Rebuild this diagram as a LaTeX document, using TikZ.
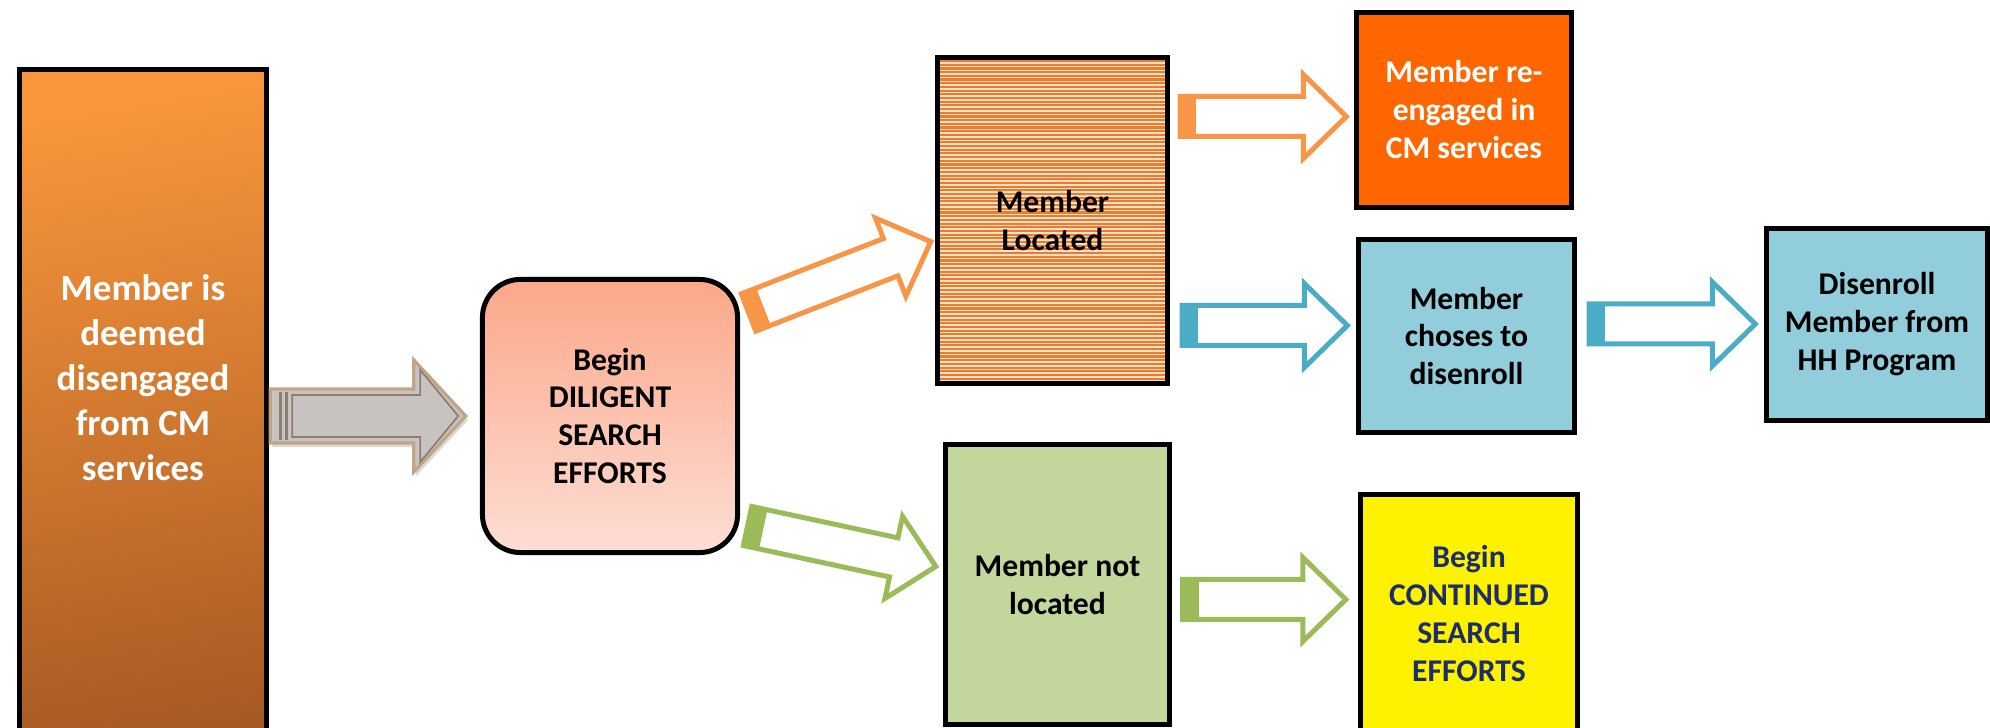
\documentclass[tikz,border=0pt]{standalone}
\usepackage{fontspec}
\setmainfont{Carlito}
\usetikzlibrary{calc,shadows}
\definecolor{leftTop}{HTML}{F9963B}
\definecolor{leftBottom}{HTML}{A35722}
\definecolor{searchTop}{HTML}{FCA78A}
\definecolor{searchBottom}{HTML}{FDDED4}
\definecolor{stripeLight}{HTML}{FCE2CF}
\definecolor{stripeOrange}{HTML}{F07A25}
\definecolor{reFill}{HTML}{FF6600}
\definecolor{blueFill}{HTML}{92CDDC}
\definecolor{greenFill}{HTML}{C3D69B}
\definecolor{navyText}{HTML}{1C2D6B}
\definecolor{arrOrange}{HTML}{F79646}
\definecolor{arrBlue}{HTML}{4BACC6}
\definecolor{arrGreen}{HTML}{9BBB59}
\definecolor{arrGrey}{HTML}{C7C3C0}
\definecolor{arrTan}{HTML}{C4A486}
\definecolor{arrDark}{HTML}{8E7D70}
\newcommand{\shaftw}{20}
\newcommand{\headw}{42}
\newcommand{\headl}{43}
\newcommand{\barlen}{16}
\newcommand{\blockarrow}[4][]{%
  \path let \p1=($(#4)-(#3)$) in
    \pgfextra{\pgfmathsetmacro\arrang{atan2(\y1,\x1)}%
      \pgfmathsetmacro\arrlen{veclen(\x1,\y1)/0.284528}%
      \global\let\arrang\arrang\global\let\arrlen\arrlen};
  \begin{scope}[shift={(#3)},rotate=\arrang]
    \draw[line width=1.42pt,line join=miter,draw=#2,fill=white,#1]
      (0,-\shaftw) -- ({\arrlen-\headl},-\shaftw) -- ({\arrlen-\headl},-\headw)
      -- (\arrlen,0) -- ({\arrlen-\headl},\headw) -- ({\arrlen-\headl},\shaftw)
      -- (0,\shaftw) -- cycle;
    \fill[#2] (0,-\shaftw) rectangle (\barlen,\shaftw);
  \end{scope}}

\begin{document}
\begin{tikzpicture}[x=0.01cm,y=-0.01cm,
    box/.style={draw=black,line width=1.42pt,align=center,inner sep=0pt,
      font=\bfseries\fontsize{9}{10.8}\selectfont},
    stripes/.style={fill=stripeLight,path picture={
      \foreach \k in {0,...,92}
        \draw[stripeOrange,line width=0.6pt]
          ([yshift=-\k*1.05pt]path picture bounding box.north west) -- ++(3cm,0);}}]
\useasboundingbox (0,0) rectangle (1990,728);
\clip (0,0) rectangle (1990,728);

% first box runs off the page
\draw[line width=1.42pt,top color=leftTop,bottom color=leftBottom,shading angle=10] (19.5,69.5) rectangle (266.5,800);
\node[align=center,text=white,inner sep=0pt,font=\bfseries\fontsize{10.5}{12.8}\selectfont,
  minimum width=2.47cm,minimum height=6.17cm] (disengaged) at (143,378) {Member is\\deemed\\disengaged\\from CM\\services};

\node[box,rounded corners=0.38cm,top color=searchTop,bottom color=searchBottom,
  minimum width=2.55cm,minimum height=2.73cm] (search) at (610,416) {Begin\\DILIGENT\\SEARCH\\EFFORTS};
\node[box,stripes,minimum width=2.30cm,minimum height=3.26cm] (located) at (1052.5,220.5) {Member\\Located};
\node[box,fill=greenFill,minimum width=2.24cm,minimum height=2.80cm] (notlocated) at (1057.5,584.5) {Member not\\located};
\node[box,fill=reFill,text=white,minimum width=2.15cm,minimum height=1.95cm] (reengaged) at (1464,110) {Member re-\\engaged in\\CM services};
\node[box,fill=blueFill,minimum width=2.16cm,minimum height=1.93cm] (chooses) at (1466.5,336) {Member\\choses to\\disenroll};
\node[box,fill=blueFill,minimum width=2.21cm,minimum height=1.92cm] (disenroll) at (1877,324.5) {Disenroll\\Member from\\HH Program};
\node[box,fill=yellow,text=navyText,minimum width=2.17cm,minimum height=2.375cm] (continued) at (1469,613.25) {Begin\\CONTINUED\\SEARCH\\EFFORTS};

\coordinate (g0) at ($(disengaged.east)+(3,38)$);
\coordinate (g1) at ($(search.west)+(-14,0)$);
\coordinate (o0) at ($(search.east)+(8.5,-103.5)$);
\coordinate (o1) at ($(located.west)+(-4,21)$);
\coordinate (v0) at ($(search.east)+(7.5,110)$);
\coordinate (v1) at ($(notlocated.west)+(-7,-18)$);
\coordinate (o2) at ($(located.east)+(10,-104)$);
\coordinate (o3) at ($(reengaged.west)+(-7.5,6.5)$);
\coordinate (b0) at ($(located.east)+(12,105)$);
\coordinate (b1) at ($(chooses.west)+(-8.5,-10.5)$);
\coordinate (b2) at ($(chooses.east)+(12,-12)$);
\coordinate (b3) at ($(disenroll.west)+(-8.5,-0.5)$);
\coordinate (v2) at ($(notlocated.east)+(10.5,15)$);
\coordinate (v3) at ($(continued.west)+(-12,-13.75)$);

{\renewcommand{\shaftw}{27}\renewcommand{\headw}{56}\renewcommand{\headl}{52}\renewcommand{\barlen}{0}%
\blockarrow[fill=arrGrey,line width=0.9pt,drop shadow={opacity=0.3,shadow xshift=0.6pt,shadow yshift=-1.2pt}]{arrTan}{g0}{g1}}
\begin{scope}[shift={(g0)}]
  \draw[arrDark,line width=0.5pt] (22,-21) -- (150,-21) -- (150,-46) -- (188,0) -- (150,46) -- (150,21) -- (22,21) -- cycle;
  \draw[arrDark,line width=1pt] (10,-24) -- (10,24) (16,-24) -- (16,24);
\end{scope}
\blockarrow{arrOrange}{o0}{o1}
\blockarrow{arrGreen}{v0}{v1}
\blockarrow{arrOrange}{o2}{o3}
\blockarrow{arrBlue}{b0}{b1}
\blockarrow{arrBlue}{b2}{b3}
\blockarrow{arrGreen}{v2}{v3}
\end{tikzpicture}
\end{document}
